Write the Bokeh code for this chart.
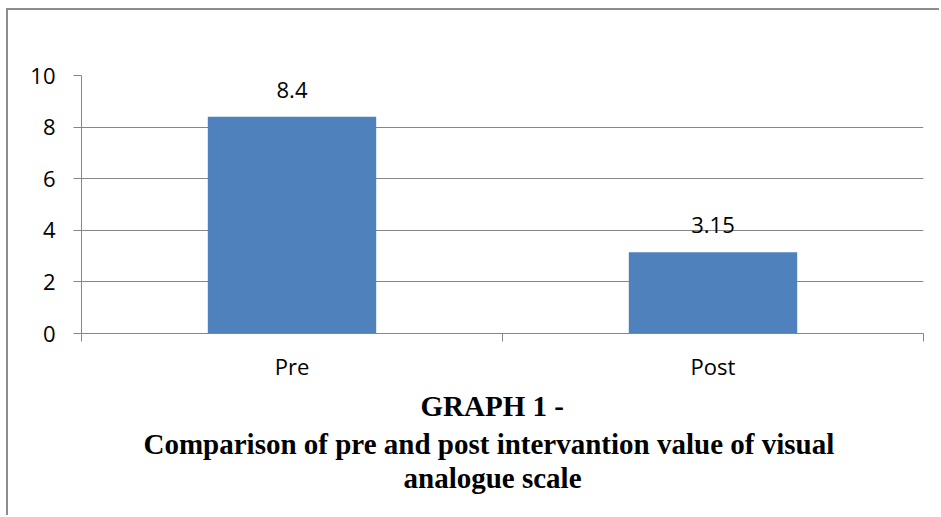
from bokeh.plotting import figure
from bokeh.models import Range1d, ColumnDataSource, LabelSet, Title, FixedTicker
from bokeh.core.properties import value
from bokeh.embed import file_html
from bokeh.resources import INLINE

# ---- data ----
categories = ["Pre", "Post"]
vas_values = [8.4, 3.15]
value_labels = ["8.4", "3.15"]
y_ticks = [0, 2, 4, 6, 8, 10]
title_lines = ["GRAPH 1 -",
               "Comparison of pre and post intervantion value of visual",
               "analogue scale"]

AXIS = "#868686"
BAR = "#4F81BD"
FONT = "Open Sans"
TFONT = "Liberation Serif"

n = len(categories)
centers = [i + 0.5 for i in range(n)]      # category slot centres on the x scale
edges = list(range(n + 1))                   # category slot boundaries

p = figure(width=933, height=507, output_backend="svg", toolbar_location=None,
           x_range=Range1d(0, n), y_range=Range1d(0, 10),
           min_border_left=73, min_border_right=18, min_border_top=65,
           min_border_bottom=184)
p.margin = (10, 0, 0, 8)
p.styles = {"box-shadow": "-2px -2px 0 0 #8c8c8c"}
p.outline_line_color = None
p.background_fill_color = "white"
p.border_fill_color = "white"

src = ColumnDataSource(dict(x=centers, cat=categories, val=vas_values, lab=value_labels))
p.vbar(x="x", top="val", width=0.4, source=src, fill_color=BAR, line_color=None)

p.add_layout(LabelSet(x="x", y="val", text="lab", source=src, y_offset=19,
                      text_align="center", text_baseline="alphabetic",
                      text_font=value(FONT), text_font_size="22px", text_color="black"))

# y axis
p.yaxis.ticker = FixedTicker(ticks=y_ticks)
p.yaxis.axis_line_color = AXIS
p.yaxis.major_tick_line_color = AXIS
p.yaxis.major_tick_out = 8
p.yaxis.major_tick_in = 0
p.yaxis.minor_tick_line_color = None
p.yaxis.major_label_standoff = 18
p.yaxis.major_label_text_font = FONT
p.yaxis.major_label_text_font_size = "22px"
p.yaxis.major_label_text_color = "black"

# x axis: category names at slot centres, tick marks at slot boundaries
p.xaxis.ticker = FixedTicker(ticks=centers, minor_ticks=edges)
p.xaxis.major_label_overrides = {c: name for c, name in zip(centers, categories)}
p.xaxis.axis_line_color = AXIS
p.xaxis.major_tick_line_color = None
p.xaxis.major_tick_out = 0
p.xaxis.major_tick_in = 0
p.xaxis.minor_tick_line_color = AXIS
p.xaxis.minor_tick_out = 8
p.xaxis.minor_tick_in = 0
p.xaxis.major_label_standoff = 9
p.xaxis.major_label_text_font = FONT
p.xaxis.major_label_text_font_size = "22px"
p.xaxis.major_label_text_color = "black"

# caption, one line per title, placed so each line is centred under the chart
line_offsets = [339, 62, 322]
line_standoffs = [8, 0, 0]
for line, off, so in zip(title_lines, line_offsets, line_standoffs):
    p.add_layout(Title(text=line, align="left", offset=off,
                       text_font=TFONT, text_font_style="bold", text_font_size="29px",
                       text_line_height=1.05,
                       text_color="black", standoff=so), "below")

p.xgrid.grid_line_color = None
p.ygrid.grid_line_color = AXIS
p.ygrid.grid_line_width = 1

open("out.html", "w").write(file_html(p, INLINE))
